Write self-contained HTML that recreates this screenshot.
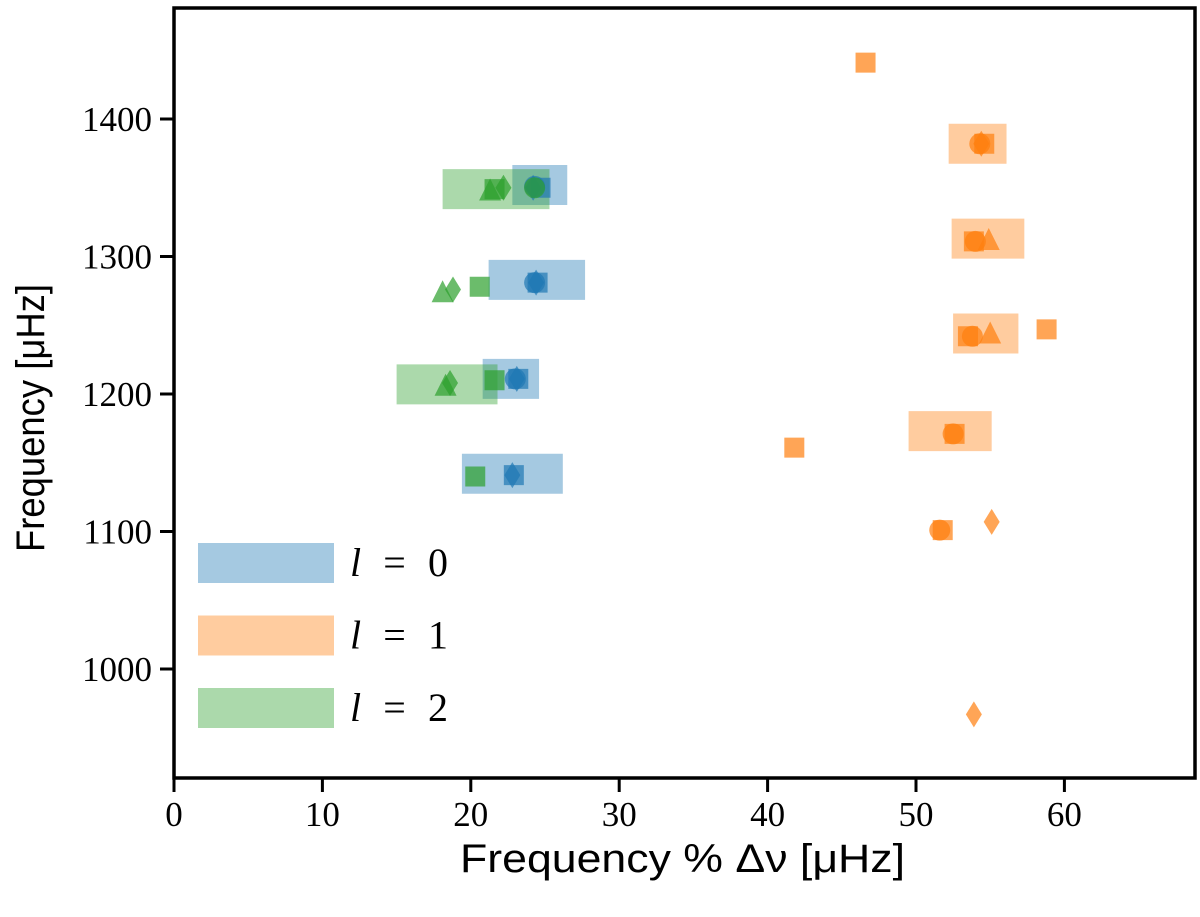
<!DOCTYPE html>
<html><head><meta charset="utf-8"><style>
body{margin:0;background:#fff;}
svg text{font-family:"Liberation Serif",serif;}
svg text.sans{font-family:"Liberation Sans",sans-serif;}
</style></head><body>
<svg id="chart" width="1200" height="912" viewBox="0 0 1200 912" xmlns="http://www.w3.org/2000/svg">
<g id="boxes"></g>
<g id="marks"></g>
<g id="axes"></g>
<g id="legend"></g>
</svg>
<script>
// data
const xTicks=[0,10,20,30,40,50,60];
const yTicks=[1000,1100,1200,1300,1400];
// boxes: degree, xmin, xmax, center frequency
const boxDeg=[0,0,0,0,1,1,1,1,2,2];
const boxXmin=[22.8,21.2,20.8,19.4,52.2,52.4,52.5,49.5,18.1,15.0];
const boxXmax=[26.5,27.7,24.6,26.2,56.1,57.3,56.9,55.1,25.3,21.8];
const boxFreq=[1352,1283,1211,1142,1382,1313,1244,1173,1349,1207];
// markers: degree, shape, x, freq
const mDeg=[0,0,0,0,0,0,0,0,0,0,0, 1,1,1,1,1,1,1,1,1,1,1,1,1,1,1,1,1, 2,2,2,2,2,2,2,2,2,2,2];
const mShape=['s','c','d','s','c','d','s','c','d','s','d', 's','s','c','d','s','c','t','s','c','t','s','s','c','s','c','s','d', 't','s','d','c','t','d','s','t','d','s','s'];
const mX=[24.7,24.3,24.2,24.5,24.3,24.4,23.2,23.0,23.1,22.9,22.8, 46.6,54.6,54.3,54.4,53.9,54.0,54.9,53.5,53.8,55.0,58.8,52.6,52.5,41.8,51.6,51.8,55.1, 21.3,21.6,22.2,24.3,18.1,18.8,20.6,18.3,18.6,21.6,20.3];
const mF=[1350,1351,1350,1281,1281,1281,1211,1211,1211,1141,1141, 1441,1382,1382,1382,1311,1311,1312,1242,1242,1244,1247,1171,1171,1161,1101,1101,1107, 1348,1349,1350,1350,1274,1276,1278,1206,1208,1210,1140];
const mF2=[967]; const mX2=[53.9];
const colors=['#1f77b4','#ff7f0e','#2ca02c'];
const legendLabels=['0','1','2'];

const X=v=>174+v*14.84;
const Y=f=>119+(1400-f)*1.375;
const NS='http://www.w3.org/2000/svg';
function mk(tag,attrs,parent){const e=document.createElementNS(NS,tag);for(const k in attrs)e.setAttribute(k,attrs[k]);parent.appendChild(e);return e;}

const gB=document.getElementById('boxes');
for(let i=0;i<boxFreq.length;i++){
  const r=mk('rect',{x:X(boxXmin[i]),y:Y(boxFreq[i])-20,width:X(boxXmax[i])-X(boxXmin[i]),height:40,fill:colors[boxDeg[i]],'fill-opacity':0.4},gB);
  
  
}
const gM=document.getElementById('marks');
function marker(shape,cx,cy,col){
  let e;
  if(shape==='s')e=mk('rect',{x:cx-10,y:cy-10,width:20,height:20},gM);
  else if(shape==='c')e=mk('circle',{cx:cx,cy:cy,r:10.5},gM);
  else if(shape==='t')e=mk('polygon',{points:`${cx},${cy-12} ${cx+11},${cy+10} ${cx-11},${cy+10}`},gM);
  else e=mk('polygon',{points:`${cx},${cy-13} ${cx+8},${cy} ${cx},${cy+13} ${cx-8},${cy}`},gM);
  e.setAttribute('fill',col);e.setAttribute('fill-opacity',0.7);
  return e;
}
for(let i=0;i<mX.length;i++){
  const e=marker(mShape[i],X(mX[i]),Y(mF[i]),colors[mDeg[i]]);
  
  
}
for(let i=0;i<mX2.length;i++){
  const e=marker('d',X(mX2[i]),Y(mF2[i]),colors[1]);
  
  
}
const gA=document.getElementById('axes');
const frame=mk('rect',{x:174,y:8,width:1021,height:770,fill:'none',stroke:'#000','stroke-width':3.5},gA);


xTicks.forEach(t=>{
  const x=X(t);
  const l=mk('line',{x1:x,x2:x,y1:778,y2:792,stroke:'#000','stroke-width':3},gA);
  
  
  const tx=mk('text',{x:x,y:826,'font-size':35,'text-anchor':'middle'},gA);tx.textContent=t;
  
  
});
yTicks.forEach(t=>{
  const y=Y(t);
  const l=mk('line',{x1:160,x2:174,y1:y,y2:y,stroke:'#000','stroke-width':3},gA);
  
  
  const tx=mk('text',{x:152,y:y+12,'font-size':35,'text-anchor':'end'},gA);tx.textContent=t;
  
  
});
const xl=mk('text',{class:'sans',x:460,y:872,'font-size':40,textLength:445,lengthAdjust:'spacingAndGlyphs'},gA);
xl.textContent='Frequency % Δν [μHz]';


const yl=mk('text',{class:'sans',x:0,y:0,'font-size':40,textLength:268,lengthAdjust:'spacingAndGlyphs',transform:'translate(44,552) rotate(-90)'},gA);
yl.textContent='Frequency [μHz]';


const gL=document.getElementById('legend');
legendLabels.forEach((lab,i)=>{
  const y=543+i*72.5;
  const r=mk('rect',{x:198,y:y,width:136,height:40,fill:colors[i],'fill-opacity':0.4},gL);
  
  
  const t=mk('text',{x:350,y:y+33,'font-size':40,textLength:98,lengthAdjust:'spacing'},gL);
  t.innerHTML='<tspan font-style="italic">l</tspan> = '+lab;
  
  
});
</script>
</body></html>
